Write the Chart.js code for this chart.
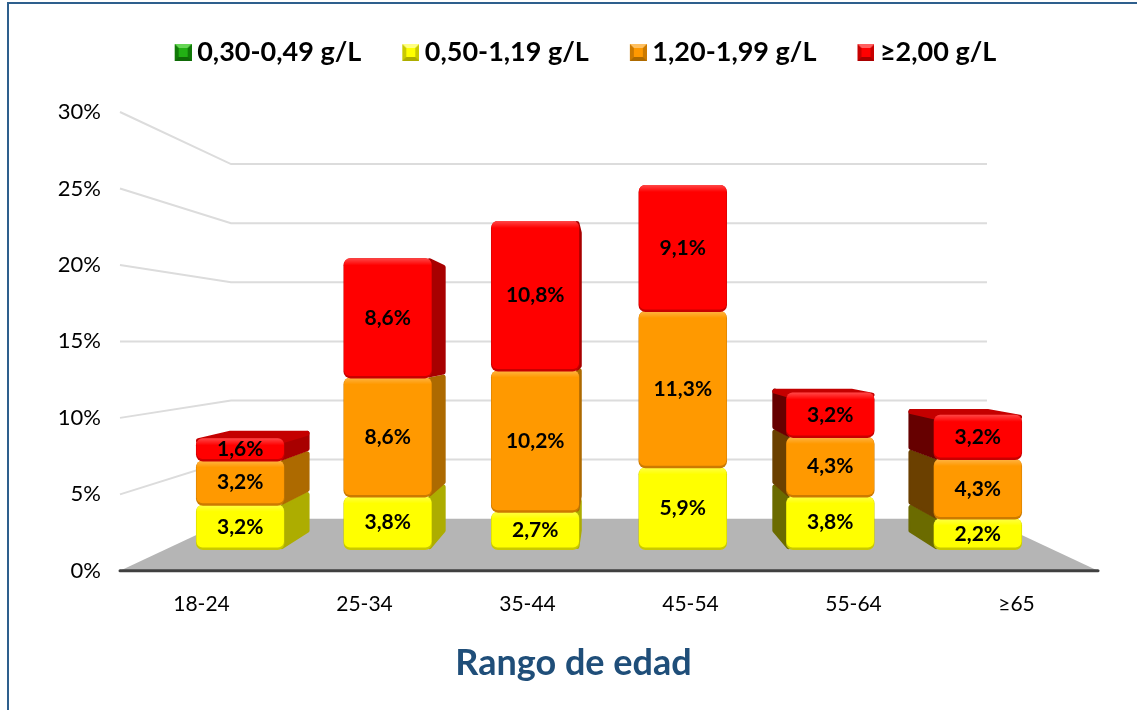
<!DOCTYPE html>
<html>
<head>
<meta charset="utf-8">
<title>Rango de edad</title>
<script src="https://cdn.jsdelivr.net/npm/chart.js@4"></script>
<style>
    html, body { margin: 0; padding: 0; background: #fff; overflow: hidden; }
    #frame { position: absolute; left: 7px; top: 2px; width: 1300px; height: 900px; border: 2px solid #2e5f8d; box-sizing: border-box; }
    #chart { position: absolute; left: 9px; top: 0; }
</style>
</head>
<body>
<div id="frame"></div>
<canvas id="chart" width="1128" height="710"></canvas>
<script>
// Values
const categories = ['18-24', '25-34', '35-44', '45-54', '55-64', '≥65'];
const seriesNames = ['0,30-0,49 g/L', '0,50-1,19 g/L', '1,20-1,99 g/L', '≥2,00 g/L'];
const green = [0, 0, 0, 0, 0, 0];
const yellow = [3.2, 3.8, 2.7, 5.9, 3.8, 2.2];
const orange = [3.2, 8.6, 10.2, 11.3, 4.3, 4.3];
const red = [1.6, 8.6, 10.8, 9.1, 3.2, 3.2];

const FONT = 'Lato, "Open Sans", sans-serif';

// Depths of the fake 3D view: 1 is the front of the floor
const DEPTH_BAR_FRONT = 0.905;
const DEPTH_BAR_BACK = 0.835;
const DEPTH_WALL = 0.773;

const colors = {
    green: { face: '#22b014', edge: '#117a08', right: '#0f6a07', left: '#0a4a05', top: '#159a0c', light: '#66d655' },
    yellow: { face: '#ffff00', edge: '#c9c900', right: '#adad00', left: '#6b6b00', top: '#d0d000', light: '#ffff80' },
    orange: { face: '#ff9900', edge: '#cc7a00', right: '#ad6a00', left: '#6b4000', top: '#c47800', light: '#ffc060' },
    red: { face: '#ff0000', edge: '#c80000', right: '#a80000', left: '#660000', top: '#c40000', light: '#ff6060' }
};

// Small bevelled square for the legend, pushed right inside its canvas
// so it sits closer to the text than Chart.js would put it
function makeSwatch(c) {
    const cv = document.createElement('canvas');
    cv.width = 33;
    cv.height = 17;
    const g = cv.getContext('2d');
    g.translate(16, 0);
    g.fillStyle = c.edge;
    g.fillRect(0, 0, 17, 17);
    const tri = (pts, color) => {
        g.fillStyle = color;
        g.beginPath();
        pts.forEach((p, i) => i ? g.lineTo(p[0], p[1]) : g.moveTo(p[0], p[1]));
        g.fill();
    };
    tri([[0, 0], [17, 0], [13, 4], [4, 4]], c.light);
    tri([[0, 17], [17, 17], [13, 13], [4, 13]], c.right);
    g.fillStyle = c.face;
    g.fillRect(4, 4, 9, 9);
    return cv;
}

function fillPoly(ctx, pts, color) {
    ctx.fillStyle = color;
    ctx.strokeStyle = color;
    ctx.lineWidth = 5;
    ctx.lineJoin = 'round';
    ctx.beginPath();
    pts.forEach((p, i) => i ? ctx.lineTo(p[0], p[1]) : ctx.moveTo(p[0], p[1]));
    ctx.closePath();
    ctx.stroke();
    ctx.fill();
}

const perspective = {
    id: 'perspective',
    beforeInit(chart) {
        // room between legend and plot
        const fit = chart.legend.fit;
        chart.legend.fit = function () {
            fit.call(this);
            this.height += 36;
        };
    },
    afterLayout(chart) {
        chart.legend.left += 28;
        chart.legend.right += 28;
        chart.titleBlock.left += 20;
        chart.titleBlock.right += 20;
    },
    beforeDatasetsDraw(chart) {
        const ctx = chart.ctx;
        const yScale = chart.scales.y;
        const area = chart.chartArea;
        const vx = (area.left + area.right) / 2;
        const vy = yScale.getPixelForValue(15);
        const px = (x, s) => vx + (x - vx) * s;
        const py = (y, s) => vy + (y - vy) * s;
        const y0 = yScale.getPixelForValue(0);

        // floor
        ctx.save();
        ctx.fillStyle = '#b5b5b5';
        ctx.beginPath();
        ctx.moveTo(area.left, y0);
        ctx.lineTo(area.right, y0);
        ctx.lineTo(px(area.right, DEPTH_WALL), py(y0, DEPTH_WALL));
        ctx.lineTo(px(area.left, DEPTH_WALL), py(y0, DEPTH_WALL));
        ctx.closePath();
        ctx.fill();

        // side and back wall lines
        ctx.strokeStyle = '#dcdcdc';
        ctx.lineWidth = 2;
        yScale.ticks.forEach(t => {
            if (t.value === 0) return;
            const y = yScale.getPixelForValue(t.value);
            ctx.beginPath();
            ctx.moveTo(area.left, y);
            ctx.lineTo(px(area.left, DEPTH_WALL), py(y, DEPTH_WALL));
            ctx.lineTo(px(area.right, DEPTH_WALL), py(y, DEPTH_WALL));
            ctx.stroke();
        });

        // front edge of the floor
        ctx.strokeStyle = '#404040';
        ctx.lineWidth = 3;
        ctx.lineCap = 'round';
        ctx.beginPath();
        ctx.moveTo(area.left, y0);
        ctx.lineTo(area.right, y0);
        ctx.stroke();
        ctx.restore();
    },
    // the boxes are painted below from the bar elements
    beforeDatasetDraw() {
        return false;
    },
    afterDatasetsDraw(chart) {
        const ctx = chart.ctx;
        const yScale = chart.scales.y;
        const area = chart.chartArea;
        const vx = (area.left + area.right) / 2;
        const vy = yScale.getPixelForValue(15);
        const px = (x, s) => vx + (x - vx) * s;
        const py = (y, s) => vy + (y - vy) * s;
        const keys = ['green', 'yellow', 'orange', 'red'];
        const last = chart.data.datasets.length - 1;

        ctx.save();
        chart.data.datasets.forEach((ds, i) => {
            const c = colors[keys[i]];
            chart.getDatasetMeta(i).data.forEach((bar, j) => {
                if (!ds.data[j]) return;
                const l = bar.x - bar.width / 2;
                const r = bar.x + bar.width / 2;
                const fl = px(l, DEPTH_BAR_FRONT), fr = px(r, DEPTH_BAR_FRONT);
                const ft = py(bar.y, DEPTH_BAR_FRONT), fb = py(bar.base, DEPTH_BAR_FRONT);
                const bl = px(l, DEPTH_BAR_BACK), br = px(r, DEPTH_BAR_BACK);
                const bt = py(bar.y, DEPTH_BAR_BACK), bb = py(bar.base, DEPTH_BAR_BACK);
                const m = 2.5;

                // side face
                if (br > fr + 2) {
                    fillPoly(ctx, [[fr - m, ft + m], [br - m, bt + m], [br - m, bb - m], [fr - m, fb - m]], c.right);
                }
                if (bl < fl - 5) {
                    fillPoly(ctx, [[fl + m, ft + m], [bl + m, bt + m], [bl + m, bb - m], [fl + m, fb - m]], c.left);
                }
                // top face, only seen below eye level and on the top box
                if (i === last && bt < ft) {
                    fillPoly(ctx, [[fl + m, ft + m], [bl + m, bt + m], [br - m, bt + m], [fr - m, ft + m]], c.top);
                }

                // front face with a small bevel
                const w = fr - fl, h = fb - ft + 1;
                ctx.fillStyle = c.edge;
                ctx.beginPath();
                ctx.roundRect(fl, ft, w, h, 7);
                ctx.fill();
                const grad = ctx.createLinearGradient(0, ft, 0, ft + 7);
                grad.addColorStop(0, 'rgba(255,255,255,0.28)');
                grad.addColorStop(1, 'rgba(255,255,255,0)');
                ctx.fillStyle = c.face;
                ctx.beginPath();
                ctx.roundRect(fl + 0.5, ft, w - 1, h - 2.5, 6);
                ctx.fill();
                ctx.fillStyle = grad;
                ctx.fill();
            });
        });

        // value labels
        ctx.fillStyle = '#000';
        ctx.font = 'bold 21px ' + FONT;
        ctx.textAlign = 'center';
        ctx.textBaseline = 'middle';
        chart.data.datasets.forEach((ds, i) => {
            chart.getDatasetMeta(i).data.forEach((bar, j) => {
                if (!ds.data[j]) return;
                const x = px(bar.x, DEPTH_BAR_FRONT);
                const y = py((bar.y + bar.base) / 2, DEPTH_BAR_FRONT);
                ctx.fillText(ds.data[j].toFixed(1).replace('.', ',') + '%', x, y);
            });
        });
        ctx.restore();
    }
};

function makeDataset(label, data, c) {
    return { label: label, data: data, backgroundColor: c.face, barPercentage: 0.6, categoryPercentage: 1 };
}

const swatches = [makeSwatch(colors.green), makeSwatch(colors.yellow), makeSwatch(colors.orange), makeSwatch(colors.red)];

new Chart(document.getElementById('chart'), {
    type: 'bar',
    data: {
        labels: categories,
        datasets: [
            makeDataset(seriesNames[0], green, colors.green),
            makeDataset(seriesNames[1], yellow, colors.yellow),
            makeDataset(seriesNames[2], orange, colors.orange),
            makeDataset(seriesNames[3], red, colors.red)
        ]
    },
    plugins: [perspective],
    options: {
        responsive: false,
        animation: false,
        layout: { padding: { top: 6, right: 39, left: 0, bottom: 0 } },
        plugins: {
            tooltip: { enabled: false },
            legend: {
                position: 'top',
                labels: {
                    color: '#000',
                    font: { family: FONT, size: 27, weight: 'bold' },
                    usePointStyle: true,
                    boxWidth: 17,
                    padding: 33,
                    generateLabels(chart) {
                        return seriesNames.map((name, i) => ({
                            text: name,
                            fontColor: '#000',
                            pointStyle: swatches[i],
                            datasetIndex: i,
                            lineWidth: 0,
                            hidden: false
                        }));
                    }
                }
            },
            title: {
                display: true,
                text: 'Rango de edad',
                position: 'bottom',
                color: '#1f4e79',
                font: { family: FONT, size: 36, weight: 'bold' },
                padding: { top: 0, bottom: 25 }
            }
        },
        scales: {
            x: {
                stacked: true,
                grid: { display: false },
                border: { display: false },
                ticks: { color: '#000', font: { family: FONT, size: 21 }, padding: 13, maxRotation: 0 },
                afterFit(scale) { scale.height = 71; }
            },
            y: {
                stacked: true,
                min: 0,
                max: 30,
                grid: { display: false, drawTicks: false },
                border: { display: false },
                ticks: {
                    stepSize: 5,
                    color: '#000',
                    padding: 19,
                    font: { family: FONT, size: 22 },
                    callback: v => v + '%'
                },
                afterFit(scale) { scale.width = 111; }
            }
        }
    }
});
</script>
</body>
</html>
